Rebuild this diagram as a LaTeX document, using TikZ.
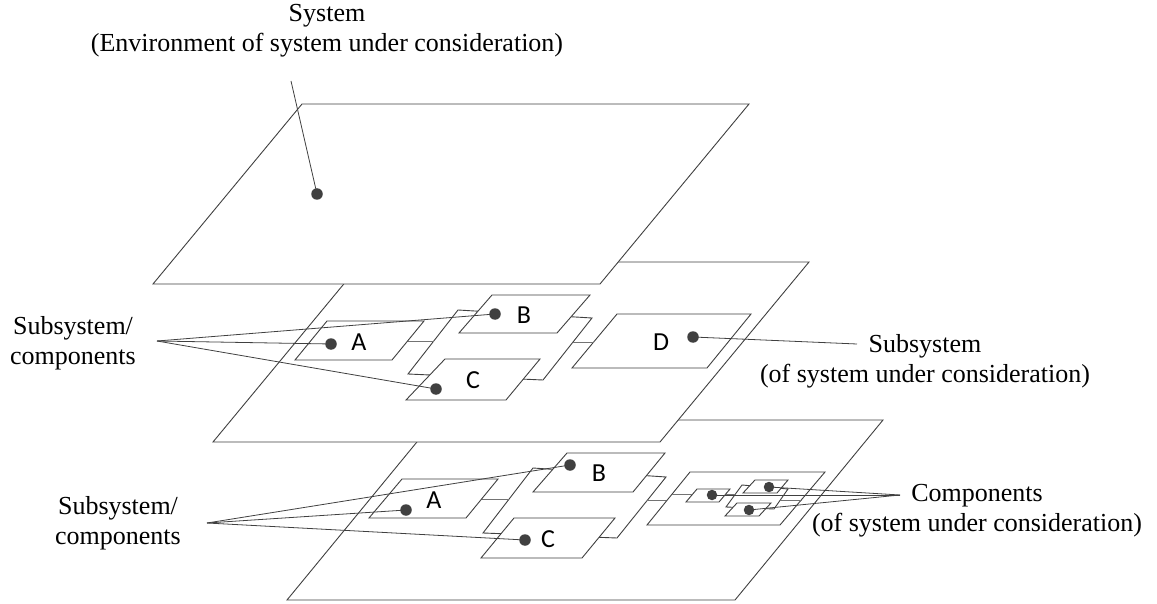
\documentclass[tikz,border=0pt]{standalone}
\usepackage{fontspec}
\setmainfont{Liberation Serif}
\newfontfamily\lettersans{Carlito}
\begin{document}
\begin{tikzpicture}[x=1pt,y=-1pt,
  line join=miter,
  plane/.style={draw=black!75, line width=0.9pt, fill=white},
  link/.style={draw=black!55, line width=1pt},
  leader/.style={draw=black!75, line width=0.8pt},
  dot/.style={circle, fill=black!75, inner sep=0pt, minimum size=11.5pt},
  lbl/.style={align=center, inner sep=0pt, font=\fontsize{26}{30}\selectfont},
  letter/.style={inner sep=0pt, font=\lettersans\fontsize{26}{26}\selectfont}]
\useasboundingbox (0,0) rectangle (1157,604);

% ---------- lowest level ----------
\draw[plane] (287,600) -- (735,600) -- (883,420) -- (435,420) -- cycle;
\draw[plane] (483,533) -- (617,538) -- (666,477) -- (533,468) -- cycle;
\draw[plane] (369,518) -- (466,518) -- (498,479) -- (402,479) -- cycle;
\draw[plane] (533,492) -- (633,492) -- (665,453) -- (567,453) -- cycle;
\draw[plane] (481,558) -- (582,558) -- (615,518) -- (514,518) -- cycle;
\draw[link] (482,499) -- (509,499);
\draw[link] (647,500) -- (668,500);
% component plane with its parts
\draw[plane] (647,525) -- (780,525) -- (825,472) -- (690,472) -- cycle;
\draw[plane] (726,507) -- (774,509) -- (788,489) -- (742,485) -- cycle;
\draw[plane] (686,502) -- (719,502) -- (730,489) -- (697,489) -- cycle;
\draw[plane] (743,493) -- (777,493) -- (788,480) -- (755,480) -- cycle;
\draw[plane] (725,516) -- (759,516) -- (771,503) -- (737,503) -- cycle;
\draw[link] (672,494) -- (692,494);
\draw[link] (726,494) -- (736,494);
\draw[link] (779,500) -- (802,500);
\node[letter] (lA) at (434,500) {A};
\node[letter] (lB) at (599,473) {B};
\node[letter] (lC) at (548,539) {C};

% ---------- middle level ----------
\draw[plane] (213,442) -- (660,442) -- (809,262) -- (362,262) -- cycle;
\draw[plane] (408,374) -- (543,380) -- (592,318) -- (458,310) -- cycle;
\draw[plane] (295,360) -- (392,360) -- (424,321) -- (327,321) -- cycle;
\draw[plane] (459,333) -- (557,333) -- (590,295) -- (492,295) -- cycle;
\draw[plane] (406,400) -- (506,400) -- (540,359) -- (445,359) -- cycle;
\draw[plane] (572,368) -- (707,368) -- (751,314) -- (617,314) -- cycle;
\draw[link] (408,341) -- (434,341);
\draw[link] (573,342) -- (594,342);
\node[letter] (mA) at (359,342) {A};
\node[letter] (mB) at (524,315) {B};
\node[letter] (mC) at (473,380) {C};
\node[letter] (mD) at (661,342) {D};

% ---------- top level ----------
\draw[plane] (153,284) -- (600,284) -- (749,104) -- (302,104) -- cycle;

% ---------- markers ----------
\node[dot] (sys) at (317,194) {};
\node[dot] (mdA) at (331,344) {};
\node[dot] (mdB) at (495,314) {};
\node[dot] (mdC) at (436,389) {};
\node[dot] (mdD) at (693,337) {};
\node[dot] (ldA) at (406,510) {};
\node[dot] (ldB) at (570,465) {};
\node[dot] (ldC) at (525,540) {};
\node[dot, minimum size=10.5pt] (c1) at (712,495) {};
\node[dot, minimum size=10.5pt] (c2) at (769,487) {};
\node[dot, minimum size=10.5pt] (c3) at (749,510) {};

% ---------- labels ----------
\node[lbl] (tsys) at (327,31) {System\\(Environment of system under consideration)};
\node[lbl] (tsub1) at (73,343) {Subsystem/\\components};
\node[lbl] (tsub2) at (118,523) {Subsystem/\\components};
\node[lbl] (tsubD) at (925,361) {Subsystem\\(of system under consideration)};
\node[lbl] (tcomp) at (977,511) {Components\\(of system under consideration)};

\coordinate (fSys) at (291,81);
\coordinate (f1) at (157,341);
\coordinate (f2) at (207,523);
\coordinate (fD) at (857,344);
\coordinate (fC) at (900,495);

% ---------- leader lines ----------
\draw[leader] (fSys) -- (sys.center);
\draw[leader] (f1) -- (mdA.center);
\draw[leader] (f1) -- (mdB.center);
\draw[leader] (f1) -- (mdC.center);
\draw[leader] (fD) -- (mdD.center);
\draw[leader] (f2) -- (ldA.center);
\draw[leader] (f2) -- (ldB.center);
\draw[leader] (f2) -- (ldC.center);
\draw[leader] (fC) -- (c1.center);
\draw[leader] (fC) -- (c2.center);
\draw[leader] (fC) -- (c3.center);
\end{tikzpicture}
\end{document}
